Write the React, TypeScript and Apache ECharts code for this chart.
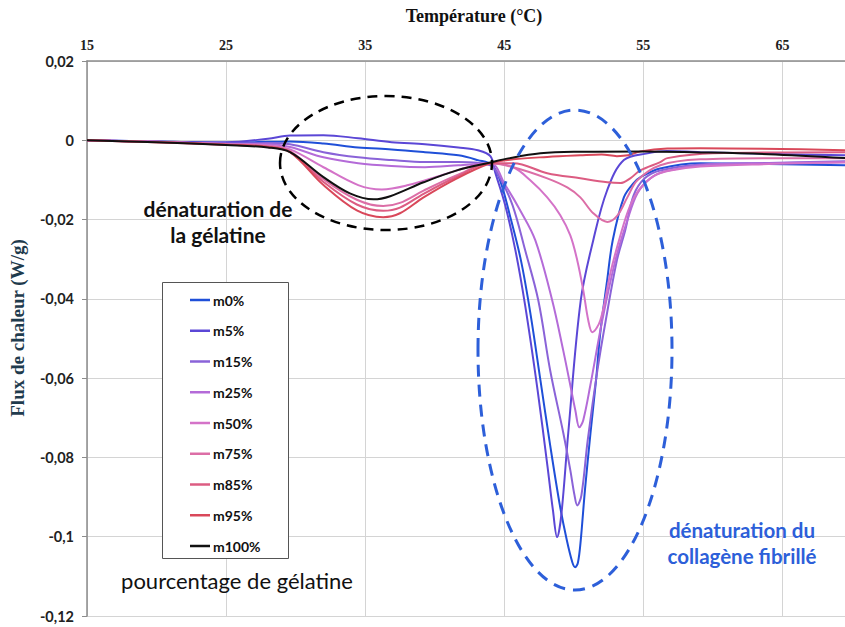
import React, { useEffect, useRef } from 'react';
import * as echarts from 'echarts';

const seriesNames = ['m0%', 'm5%', 'm15%', 'm25%', 'm50%', 'm75%', 'm85%', 'm95%', 'm100%'];

const m0 = [[15,0],[20,-0.0003],[25,-0.0006],[28,-0.0004],[29.6,-0.0003],[32,-0.0008],[34.5,-0.0018],[36.9,-0.0023],[39.3,-0.003],[41.7,-0.0038],[43.1,-0.005],[44.1,-0.0062],[44.7,-0.0101],[45.4,-0.0189],[46.2,-0.0303],[46.9,-0.0441],[47.6,-0.0605],[48.3,-0.0769],[49.0,-0.0921],[49.5,-0.1009],[49.9,-0.1065],[50.1,-0.1077],[50.3,-0.1065],[50.5,-0.1009],[50.8,-0.0883],[51.2,-0.0739],[51.6,-0.0605],[51.9,-0.0487],[52.4,-0.0353],[52.8,-0.0252],[53.6,-0.0144],[54.3,-0.0108],[54.8,-0.0093],[56.2,-0.0071],[59.1,-0.0058],[64,-0.006],[69.5,-0.0063]];
const m5 = [[15,0],[20,-0.0003],[25,-0.0005],[28,0.0004],[29.6,0.0012],[32,0.0013],[34.5,0.0005],[36.9,-0.0005],[39.3,-0.001],[41.7,-0.0018],[43.1,-0.0025],[44.0,-0.004],[44.35,-0.0081],[45.07,-0.0164],[45.8,-0.0277],[46.5,-0.0416],[47.4,-0.0631],[48.1,-0.082],[48.5,-0.0933],[48.8,-0.1001],[49.1,-0.0946],[49.6,-0.0739],[50.5,-0.0404],[51.4,-0.0252],[52.4,-0.0126],[53.6,-0.005],[55.3,-0.0033],[56.7,-0.0027],[59.1,-0.003],[64,-0.0034],[69.5,-0.0038]];
const m15 = [[15,0],[20,-0.0004],[25,-0.0008],[28,-0.0007],[29.6,-0.001],[32,-0.003],[34.5,-0.0043],[36.9,-0.005],[39.3,-0.0055],[41.7,-0.0055],[44,-0.0063],[44.7,-0.0096],[45.6,-0.0164],[46.5,-0.0277],[47.45,-0.0404],[48.3,-0.058],[49.25,-0.0739],[49.75,-0.0832],[50.05,-0.0895],[50.25,-0.0921],[50.55,-0.0895],[51.0,-0.0757],[51.7,-0.058],[52.3,-0.0454],[53.1,-0.0303],[53.7,-0.0227],[54.3,-0.0139],[55.1,-0.0096],[56.2,-0.0076],[59.1,-0.0061],[64,-0.0057],[69.5,-0.0053]];
const m25 = [[15,0],[20,-0.0004],[25,-0.0009],[28,-0.001],[29.6,-0.0017],[32,-0.0043],[34.5,-0.0058],[36.9,-0.0065],[39.3,-0.0068],[41.7,-0.0063],[44,-0.0058],[45.07,-0.0113],[46.15,-0.0177],[47.23,-0.0252],[48.45,-0.0404],[49.24,-0.053],[49.75,-0.0618],[50.11,-0.0681],[50.4,-0.0724],[50.68,-0.0706],[51.19,-0.0618],[52.05,-0.0454],[52.99,-0.0303],[53.85,-0.0202],[54.57,-0.0134],[55.5,-0.0096],[56.58,-0.0078],[59.1,-0.0063],[64,-0.0058],[69.5,-0.0055]];
const m50 = [[15,0],[20,-0.0004],[25,-0.001],[28,-0.0013],[29.6,-0.0023],[32,-0.0068],[34.5,-0.0113],[36.2,-0.0124],[38.1,-0.0113],[40.5,-0.0088],[42.9,-0.0063],[44,-0.0058],[45.65,-0.0068],[46.87,-0.0101],[48.09,-0.0144],[49.03,-0.0189],[49.75,-0.024],[50.25,-0.0303],[50.68,-0.0378],[51.04,-0.0454],[51.33,-0.0484],[51.91,-0.0454],[52.63,-0.0335],[53.35,-0.024],[54.06,-0.0164],[54.78,-0.0121],[55.86,-0.0088],[56.94,-0.0076],[59.1,-0.0066],[64,-0.006],[69.5,-0.0056]];
const m75 = [[15,0],[20,-0.0004],[25,-0.001],[28,-0.0015],[29.6,-0.0027],[32,-0.0098],[34.4,-0.015],[36.3,-0.0166],[37.5,-0.0158],[39.2,-0.0127],[41.6,-0.0088],[44,-0.0058],[45.65,-0.0068],[48.09,-0.0096],[49.53,-0.0119],[50.47,-0.0144],[51.4,-0.0184],[52.41,-0.0206],[53.13,-0.019],[53.85,-0.0144],[54.57,-0.0101],[56.22,-0.0063],[59.1,-0.0048],[64,-0.0045],[69.5,-0.0045]];
const m85 = [[15,0],[20,-0.0005],[25,-0.0011],[28,-0.0016],[29.6,-0.0029],[32,-0.0105],[34.4,-0.0162],[36.3,-0.0178],[37.5,-0.017],[39.2,-0.0135],[41.6,-0.0092],[44,-0.0058],[45.65,-0.0058],[48.09,-0.0083],[50.47,-0.0096],[52.41,-0.0106],[53.35,-0.0108],[54.06,-0.0096],[54.78,-0.0076],[56.22,-0.0055],[56.73,-0.0045],[60,-0.0033],[69.5,-0.003]];
const m95 = [[15,0],[20,-0.0005],[25,-0.0011],[28,-0.0017],[29.6,-0.003],[32,-0.0113],[34.4,-0.0177],[36.3,-0.0194],[37.5,-0.0184],[39.2,-0.0144],[41.6,-0.0096],[44,-0.0058],[45.65,-0.0048],[48.09,-0.0042],[50.47,-0.0038],[52,-0.0036],[53.1,-0.004],[53.9,-0.0038],[54.8,-0.0028],[56.73,-0.0021],[59.1,-0.002],[69.5,-0.0025]];
const m100 = [[15,0],[20,-0.0005],[25,-0.0012],[28,-0.0018],[29.6,-0.003],[32,-0.0093],[33.9,-0.0134],[35.6,-0.0149],[36.8,-0.0141],[39.2,-0.0106],[41.6,-0.0076],[44,-0.0056],[45.4,-0.0045],[47.6,-0.0033],[50,-0.0029],[55,-0.0028],[58.5,-0.003],[64,-0.0035],[69.5,-0.0045]];

const seriesData = [m0, m5, m15, m25, m50, m75, m85, m95, m100];
const seriesColors = ['#1f4fd8', '#5b47d6', '#8a63d8', '#b46bd8', '#d473c8', '#dc6ea6', '#dc5c82', '#d9485a', '#111111'];

const xMin = 15;
const xMax = 69.5;
const xStep = 10;
const yMin = -0.12;
const yMax = 0.02;
const yStep = 0.02;

const xTitle = 'Température (°C)';
const yTitle = 'Flux de chaleur (W/g)';
const gelatinNote = ['dénaturation de', 'la gélatine'];
const collagenNote = ['dénaturation du', 'collagène fibrillé'];
const legendNote = 'pourcentage de gélatine';

const fmtY = (v: number) => (Math.abs(v) < 1e-9 ? '0' : String(+v.toFixed(2)).replace('.', ','));

export default function App() {
  const ref = useRef<HTMLDivElement>(null);
  useEffect(() => {
    const chart = echarts.init(ref.current!, null, { renderer: 'svg' });
    const sans = 'Lato, "Open Sans", sans-serif';
    const serif = '"Liberation Serif", "DejaVu Serif", serif';
    chart.setOption({
      animation: false,
      backgroundColor: '#ffffff',
      grid: { left: 87, right: 0, top: 61, bottom: 11, containLabel: false },
      xAxis: {
        type: 'value',
        position: 'top',
        min: xMin,
        max: xMax,
        interval: xStep,
        axisLine: { show: true, onZero: false, lineStyle: { color: '#8c8c8c', width: 1.5 } },
        axisTick: { show: false },
        axisLabel: {
          margin: 9,
          fontFamily: serif,
          fontWeight: 'bold',
          fontSize: 14,
          color: '#222',
          showMaxLabel: false,
        },
        splitLine: { show: true, lineStyle: { color: '#d4d4d4', width: 1 } },
      },
      yAxis: {
        type: 'value',
        min: yMin,
        max: yMax,
        interval: yStep,
        axisLine: { show: true, onZero: false, lineStyle: { color: '#8c8c8c', width: 1.5 } },
        axisTick: { show: true, length: 5, lineStyle: { color: '#8c8c8c' } },
        axisLabel: {
          margin: 13,
          fontFamily: sans,
          fontWeight: 'bold',
          fontSize: 14.5,
          color: '#222',
          formatter: fmtY,
        },
        splitLine: { show: true, lineStyle: { color: '#d4d4d4', width: 1 } },
      },
      legend: {
        orient: 'vertical',
        left: 190,
        top: 293,
        padding: 0,
        itemWidth: 20,
        itemHeight: 2.5,
        itemGap: 16.75,
        icon: 'rect',
        data: seriesNames,
        textStyle: { fontFamily: sans, fontWeight: 'bold', fontSize: 14, color: '#111', lineHeight: 14, padding: [0, 0, 0, -2] },
      },
      graphic: [
        { type: 'rect', z: 3, shape: { x: 162.5, y: 282.5, width: 126, height: 276 }, style: { fill: '#ffffff', stroke: '#555', lineWidth: 1 } },
        { type: 'ellipse', z: 5, shape: { cx: 386, cy: 163, rx: 106, ry: 67 }, style: { fill: 'none', stroke: '#000', lineWidth: 2.5, lineDash: [10, 7] } },
        { type: 'ellipse', z: 5, shape: { cx: 575, cy: 350, rx: 97, ry: 240 }, style: { fill: 'none', stroke: '#2d5fd9', lineWidth: 3, lineDash: [12, 8] } },
        { type: 'text', z: 6, x: 474, y: 16, style: { text: xTitle, font: `bold 18px ${serif}`, fill: '#111', textAlign: 'center', textVerticalAlign: 'middle' } },
        { type: 'text', z: 6, x: 17, y: 328, rotation: Math.PI / 2, style: { text: yTitle, font: `bold 19px ${serif}`, fill: '#1f3b4d', textAlign: 'center', textVerticalAlign: 'middle' } },
        { type: 'text', z: 6, x: 218, y: 208, style: { text: gelatinNote[0], font: `bold 21px ${sans}`, fill: '#111', textAlign: 'center', textVerticalAlign: 'middle' } },
        { type: 'text', z: 6, x: 218, y: 234, style: { text: gelatinNote[1], font: `bold 21px ${sans}`, fill: '#111', textAlign: 'center', textVerticalAlign: 'middle' } },
        { type: 'text', z: 6, x: 237, y: 580, style: { text: legendNote, font: `22px ${sans}`, fill: '#111', textAlign: 'center', textVerticalAlign: 'middle' } },
        { type: 'text', z: 6, x: 742, y: 530, style: { text: collagenNote[0], font: `bold 20.5px ${sans}`, fill: '#2d5fd9', textAlign: 'center', textVerticalAlign: 'middle' } },
        { type: 'text', z: 6, x: 742, y: 556, style: { text: collagenNote[1], font: `bold 20.5px ${sans}`, fill: '#2d5fd9', textAlign: 'center', textVerticalAlign: 'middle' } },
      ],
      series: seriesNames.map((name, i) => ({
        name,
        type: 'line',
        data: seriesData[i],
        symbol: 'none',
        showSymbol: false,
        smooth: 0.35,
        color: seriesColors[i],
        lineStyle: { color: seriesColors[i], width: 2 },
        z: i === 8 ? 3 : 2,
      })),
    });
    return () => chart.dispose();
  }, []);
  return (
    <div
      ref={ref}
      style={{ position: 'fixed', left: 0, top: 0, width: 845, height: 627, background: '#fff' }}
    />
  );
}
